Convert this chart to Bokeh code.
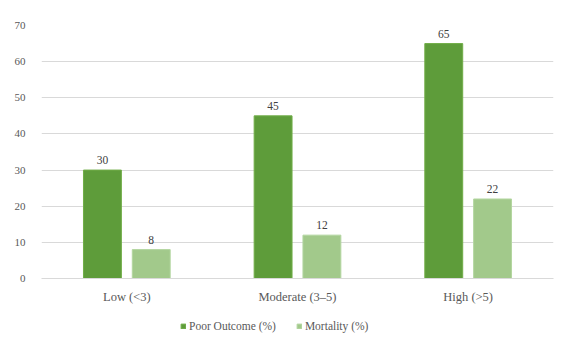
from bokeh.plotting import figure
from bokeh.layouts import column
from bokeh.models import ColumnDataSource, FactorRange, Range1d, Legend, LegendItem, LabelSet
from bokeh.transform import dodge
from bokeh.embed import file_html
from bokeh.resources import INLINE

categories = ["Low (<3)", "Moderate (3\u20135)", "High (>5)"]
poor_outcome = [30, 45, 65]
mortality = [8, 12, 22]
y_ticks = [0, 10, 20, 30, 40, 50, 60, 70]

src = ColumnDataSource(dict(cat=categories, poor=poor_outcome, mort=mortality,
                            poor_lbl=[str(v) for v in poor_outcome],
                            mort_lbl=[str(v) for v in mortality]))

FONT = "Liberation Serif"
POOR_FILL, POOR_LINE = "#5E9C3A", "#70AD47"
MORT_FILL, MORT_LINE = "#A2C98B", "#B3D6A0"

p = figure(width=566, height=310, x_range=FactorRange(*categories, range_padding=0),
           y_range=Range1d(0, 70), output_backend="svg", toolbar_location=None,
           min_border_left=41, min_border_right=13, min_border_top=25, min_border_bottom=32)
p.outline_line_color = None

p.vbar(x=dodge("cat", -0.143, range=p.x_range), top="poor", width=0.222, source=src,
       fill_color=POOR_FILL, line_color=POOR_LINE, line_width=1)
p.vbar(x=dodge("cat", 0.143, range=p.x_range), top="mort", width=0.222, source=src,
       fill_color=MORT_FILL, line_color=MORT_LINE, line_width=1)

for col, off in (("poor", -0.143), ("mort", 0.143)):
    lbl = LabelSet(x=dodge("cat", off, range=p.x_range), y=col, text=col + "_lbl", source=src,
                   y_offset=6, text_align="center", text_baseline="bottom",
                   text_font=FONT, text_font_size="11.5px", text_color="#404040")
    p.add_layout(lbl)

p.yaxis.ticker = y_ticks
p.yaxis.axis_line_color = None
p.yaxis.major_tick_line_color = None
p.yaxis.minor_tick_line_color = None
p.yaxis.major_label_text_font = FONT
p.yaxis.major_label_text_font_size = "11px"
p.yaxis.major_label_text_color = "#595959"
p.yaxis.major_label_standoff = 10

p.xaxis.axis_line_color = "#D9D9D9"
p.xaxis.major_tick_line_color = None
p.xaxis.minor_tick_line_color = None
p.xaxis.major_label_text_font = FONT
p.xaxis.major_label_text_font_size = "12.5px"
p.xaxis.major_label_text_color = "#595959"
p.xaxis.major_label_standoff = 5

p.xgrid.grid_line_color = None
p.ygrid.grid_line_color = "#D9D9D9"

# legend strip below the chart
q = figure(width=566, height=35, x_range=FactorRange(*categories), y_range=Range1d(100, 101),
           output_backend="svg", toolbar_location=None,
           min_border_left=0, min_border_right=0, min_border_top=0, min_border_bottom=0)
q.axis.visible = False
q.grid.grid_line_color = None
q.outline_line_color = None
l1 = q.vbar(x="cat", top="poor", width=0.2, source=src, fill_color=POOR_FILL, line_color=POOR_LINE)
l2 = q.vbar(x="cat", top="mort", width=0.2, source=src, fill_color=MORT_FILL, line_color=MORT_LINE)
legend = Legend(items=[LegendItem(label="Poor Outcome (%)", renderers=[l1]),
                       LegendItem(label="Mortality (%)", renderers=[l2])],
                orientation="horizontal", location=(139, 13),
                label_text_font=FONT, label_text_font_size="11.5px", label_text_color="#595959",
                glyph_width=6, glyph_height=6, label_standoff=3, spacing=20,
                label_height=10, border_line_color=None, background_fill_alpha=0,
                margin=0, padding=2)
q.add_layout(legend, "center")

layout = column(p, q, spacing=0)
open("out.html", "w").write(file_html(layout, INLINE))
